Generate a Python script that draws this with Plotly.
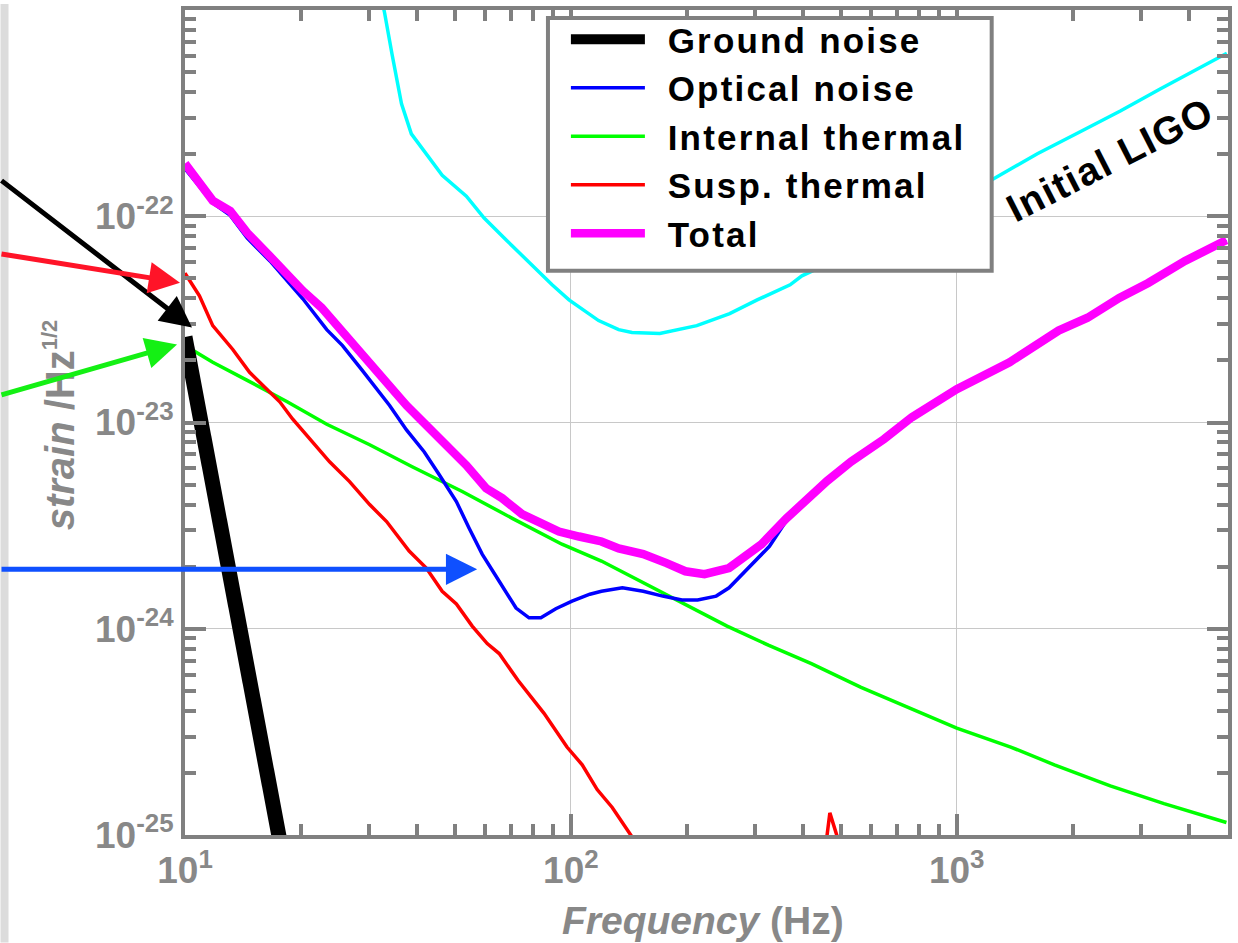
import plotly.graph_objects as go

# ---------------- data ----------------
freq_ground = [10, 12, 14, 16, 18, 20]
ground_noise = [2.6e-23, 4.25e-24, 9.2e-25, 2.43e-25, 7.55e-26, 2.65e-26]

freq_optical = [10, 11.8, 13.1, 14.5, 16.6, 18.4, 20.2, 23.3, 25.6, 28.8, 33.9, 37.5,
                41.7, 45.6, 50.5, 54.5, 58.9, 65.2, 72.1, 77.9, 83.6, 91.4, 100.7, 112,
                120, 136, 154, 173, 194, 213, 238, 257, 283, 306, 327, 362, 461, 532,
                648, 765, 1000, 1161, 1371, 1836, 2183, 2638, 3135, 3905, 5000]
optical_noise = [1.70e-22, 1.16e-22, 1.01e-22, 7.83e-23, 6.07e-23, 4.86e-23, 3.98e-23,
                 2.82e-23, 2.36e-23, 1.79e-23, 1.21e-23, 9.2e-24, 7.2e-24, 5.58e-24,
                 4.14e-24, 3.07e-24, 2.30e-24, 1.70e-24, 1.26e-24, 1.13e-24, 1.13e-24,
                 1.25e-24, 1.36e-24, 1.47e-24, 1.52e-24, 1.58e-24, 1.52e-24, 1.44e-24,
                 1.38e-24, 1.38e-24, 1.44e-24, 1.58e-24, 1.90e-24, 2.20e-24, 2.51e-24,
                 3.35e-24, 5.1e-24, 6.4e-24, 8.2e-24, 1.05e-23, 1.44e-23, 1.68e-23,
                 1.95e-23, 2.78e-23, 3.21e-23, 4.01e-23, 4.74e-23, 6.06e-23, 7.65e-23]

freq_internal = [10, 11.8, 14.5, 18.4, 23.3, 30.1, 38.8, 52.3, 70.5, 94.8, 120, 154,
                 198, 254, 326, 420, 565, 778, 1000, 1380, 1791, 2500, 3445, 5000]
internal_thermal = [2.36e-23, 1.96e-23, 1.60e-23, 1.26e-23, 9.8e-24, 7.8e-24, 6.1e-24,
                    4.63e-24, 3.43e-24, 2.57e-24, 2.13e-24, 1.67e-24, 1.32e-24, 1.03e-24,
                    8.3e-25, 6.78e-25, 5.2e-25, 4.03e-25, 3.30e-25, 2.67e-25, 2.19e-25,
                    1.73e-25, 1.42e-25, 1.15e-25]

freq_susp = [10, 10.9, 11.8, 13.3, 14.7, 16.3, 17.6, 19.0, 21.4, 23.7, 26.7, 30.1, 33.3,
             38.1, 42.2, 46.4, 50.5, 55.5, 60.7, 65.2, 73.0, 85.2, 97.7, 107, 117, 128,
             144, 170, 250, 400, 434, 469, 569, 800]
susp_thermal = [5.3e-23, 4.11e-23, 2.95e-23, 2.26e-23, 1.75e-23, 1.45e-23, 1.26e-23,
                1.04e-23, 8.05e-24, 6.45e-24, 5.17e-24, 4.0e-24, 3.31e-24, 2.38e-24,
                1.97e-24, 1.52e-24, 1.32e-24, 1.03e-24, 8.47e-25, 7.58e-25, 5.61e-25,
                3.89e-25, 2.67e-25, 2.19e-25, 1.66e-25, 1.36e-25, 9.8e-26, 5.5e-26,
                2.2e-26, 1.0e-26, 4e-26, 1.28e-25, 4e-26, 5e-27]

freq_total = [10, 11.8, 13.1, 14.5, 16.6, 18.4, 20.2, 22.6, 25.6, 29.5, 33.3, 37.5, 42.2,
              47.5, 53.6, 60.3, 66.3, 74.7, 82.6, 93.1, 105, 120, 133, 154, 177, 198, 222,
              257, 312, 362, 461, 532, 648, 765, 1000, 1161, 1371, 1836, 2183, 2638, 3135,
              3905, 5000]
total_noise = [1.8e-22, 1.19e-22, 1.06e-22, 8.3e-23, 6.4e-23, 5.2e-23, 4.35e-23, 3.6e-23,
               2.73e-23, 2.02e-23, 1.57e-23, 1.21e-23, 9.7e-24, 7.8e-24, 6.2e-24, 4.8e-24,
               4.3e-24, 3.6e-24, 3.3e-24, 2.96e-24, 2.8e-24, 2.65e-24, 2.45e-24, 2.3e-24,
               2.08e-24, 1.9e-24, 1.84e-24, 1.97e-24, 2.57e-24, 3.43e-24, 5.2e-24, 6.45e-24,
               8.3e-24, 1.06e-23, 1.45e-23, 1.69e-23, 1.96e-23, 2.79e-23, 3.22e-23,
               4.02e-23, 4.75e-23, 6.07e-23, 7.66e-23]

freq_ligo = [32.1, 32.9, 34.4, 36.4, 38.6, 42.2, 46.4, 53.6, 59.6, 68.4, 76.6, 89.4, 98.9,
             118, 133, 144, 170, 212, 258, 304, 370, 397, 500, 700, 1000, 1291, 1618, 2089,
             2654, 3366, 4121, 5012]
initial_ligo = [1.2e-21, 9.7e-22, 6.1e-22, 3.51e-22, 2.51e-22, 2.01e-22, 1.58e-22, 1.25e-22,
                9.8e-23, 7.59e-23, 6.14e-23, 4.65e-23, 3.93e-23, 3.12e-23, 2.82e-23,
                2.73e-23, 2.70e-23, 2.95e-23, 3.37e-23, 3.93e-23, 4.65e-23, 5.14e-23,
                6.3e-23, 8.5e-23, 1.2e-22, 1.58e-22, 2.01e-22, 2.57e-22, 3.24e-22,
                4.14e-22, 5.06e-22, 6.17e-22]

x_major = [10, 100, 1000]
x_major_text = ['10<sup>1</sup>', '10<sup>2</sup>', '10<sup>3</sup>']
x_minor = [20, 30, 40, 50, 60, 70, 80, 90, 200, 300, 400, 500, 600, 700, 800, 900,
           2000, 3000, 4000]
y_major = [1e-25, 1e-24, 1e-23, 1e-22, 1e-21]
y_major_text = ['10<sup>-25</sup>', '10<sup>-24</sup>', '10<sup>-23</sup>', '10<sup>-22</sup>', '']
y_minor = [m * 10.0 ** e for e in (-25, -24, -23, -22) for m in range(2, 10)]

legend_names = ['Ground noise', 'Optical noise', 'Internal thermal', 'Susp. thermal', 'Total']

# ---------------- figure ----------------
FONT = 'Liberation Sans, Arial, Helvetica, sans-serif'
GRAY = '#808080'
LABEL_GRAY = '#888888'

# plot-area geometry in pixels (for paper-coordinate placement of decorations)
L, T, W, H = 185, 6, 1046, 829


def px(xp):
    return (xp - L) / W


def py(yp):
    return (T + H - yp) / H


def lname(s):
    return ('<span style="letter-spacing:8px">&nbsp;</span>'
            '<span style="letter-spacing:2.2px">' + s + '</span>')


fig = go.Figure()
fig.add_trace(go.Scatter(x=freq_ligo, y=initial_ligo, mode='lines', name='Initial LIGO',
                         line=dict(color='#00ffff', width=3.5), showlegend=False))
fig.add_trace(go.Scatter(x=freq_internal, y=internal_thermal, mode='lines',
                         name=lname(legend_names[2]), legendrank=3,
                         line=dict(color='#00ff00', width=3.5)))
fig.add_trace(go.Scatter(x=freq_susp, y=susp_thermal, mode='lines',
                         name=lname(legend_names[3]), legendrank=4,
                         line=dict(color='#ff0000', width=3.5)))
fig.add_trace(go.Scatter(x=freq_optical, y=optical_noise, mode='lines',
                         name=lname(legend_names[1]), legendrank=2,
                         line=dict(color='#0000ff', width=3.5)))
fig.add_trace(go.Scatter(x=freq_total, y=total_noise, mode='lines',
                         name=lname(legend_names[4]), legendrank=5,
                         line=dict(color='#ff00ff', width=8.5)))
fig.add_trace(go.Scatter(x=freq_ground, y=ground_noise, mode='lines',
                         name=lname(legend_names[0]), legendrank=1,
                         line=dict(color='#000000', width=15)))

axis_common = dict(
    type='log', ticks='inside', tickwidth=4, tickcolor=GRAY, ticklen=21,
    showline=True, linewidth=4, linecolor=GRAY, mirror='allticks',
    showgrid=True, gridcolor='#c8c8c8', gridwidth=1, zeroline=False,
    tickfont=dict(family=FONT, size=37, color=LABEL_GRAY, weight='bold'),
)

fig.update_layout(
    width=1238, height=943,
    margin=dict(l=L, r=1238 - L - W, t=T, b=943 - T - H),
    paper_bgcolor='white', plot_bgcolor='white',
    font=dict(family=FONT, color=LABEL_GRAY),
    xaxis=dict(axis_common, range=[1, 3.703], tickmode='array', tickvals=x_major,
               ticktext=x_major_text,
               minor=dict(tickmode='array', tickvals=x_minor, ticks='inside', ticklen=11,
                          tickwidth=4, tickcolor=GRAY, showgrid=False)),
    yaxis=dict(axis_common, range=[-25, -21], tickmode='array', tickvals=y_major,
               ticktext=y_major_text,
               minor=dict(tickmode='array', tickvals=y_minor, ticks='inside', ticklen=11,
                          tickwidth=4, tickcolor=GRAY, showgrid=False)),
    legend=dict(x=px(567), y=py(6), xanchor='left', yanchor='top',
                bgcolor='rgba(0,0,0,0)', borderwidth=0,
                font=dict(family=FONT, size=35, color='black', weight='bold'),
                itemwidth=74, tracegroupgap=0),
    showlegend=True,
)

# legend frame (white box with thick gray border, drawn over the curves)
fig.add_shape(type='rect', xref='paper', yref='paper',
              x0=px(549), x1=px(994), y0=py(268), y1=py(14),
              fillcolor='white', line=dict(color=GRAY, width=4), layer='above')

# light gray strip on the far left
fig.add_shape(type='rect', xref='paper', yref='paper',
              x0=px(0), x1=px(8), y0=py(943), y1=py(0),
              fillcolor='#dcdcdc', line=dict(width=0), layer='below')

# axis titles
fig.add_annotation(xref='paper', yref='paper', x=px(60), y=py(423), showarrow=False,
                   xanchor='center', yanchor='middle', textangle=-90,
                   text='<i>strain</i> /Hz<sup><span style="font-size:22px">1/2</span></sup>',
                   font=dict(family=FONT, size=40, color=LABEL_GRAY, weight='bold'))
fig.add_annotation(xref='paper', yref='paper', x=px(704), y=py(921), showarrow=False,
                   xanchor='center', yanchor='middle',
                   text='<i>Frequency</i> (Hz)',
                   font=dict(family=FONT, size=39, color=LABEL_GRAY, weight='bold'))

# Initial LIGO label
fig.add_annotation(xref='paper', yref='paper', x=px(1113), y=py(156), showarrow=False,
                   xanchor='center', yanchor='middle',
                   text='<span style="letter-spacing:1.5px">Initial LIGO</span>', textangle=-27,
                   font=dict(family=FONT, size=39, color='black', weight='bold'))

# arrows pointing at the curves
arrows = [
    # (tip_x_px, tip_y_px, tail_x_px, tail_y_px, color)
    (192, 325, -4, 177, '#000000'),
    (180, 280, -4, 251, '#ff1428'),
    (177, 342, -4, 393, '#14f014'),
    (478, 568, -4, 568, '#0f50ff'),
]
for tx, ty, sx, sy, col in arrows:
    fig.add_annotation(xref='paper', yref='paper', x=px(tx), y=py(ty),
                       ax=sx - tx, ay=sy - ty, text='', showarrow=True,
                       arrowhead=2, arrowsize=1.25, arrowwidth=5, arrowcolor=col)

fig.write_html('out.html')
